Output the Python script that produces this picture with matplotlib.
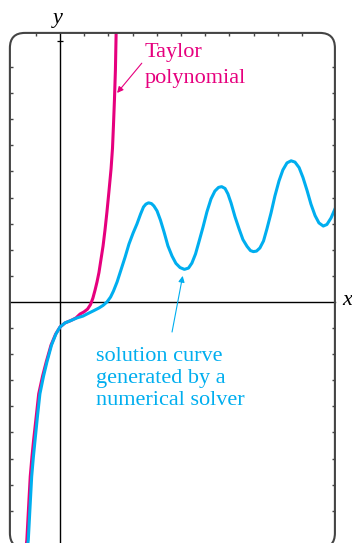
import numpy as np
import matplotlib
matplotlib.use("Agg")
import matplotlib.pyplot as plt
from matplotlib.patches import FancyBboxPatch

# solution curve from the numerical solver
sol_x = [-1.36, -1.31, -1.24, -1.17, -1.10, -1.03, -0.93, -0.83, -0.68, -0.54,
         -0.35, -0.17, 0.00, 0.21, 0.45, 0.70, 0.95, 1.16, 1.40, 1.61,
         1.78, 1.94, 2.09, 2.21, 2.36, 2.52, 2.69, 2.85, 3.02, 3.18,
         3.33, 3.45, 3.55, 3.66, 3.78, 3.88, 4.01, 4.15, 4.30, 4.46,
         4.63, 4.79, 4.96, 5.14, 5.31, 5.45, 5.60, 5.74, 5.91, 6.07,
         6.24, 6.40, 6.55, 6.68, 6.82, 6.94, 7.07, 7.23, 7.40, 7.56,
         7.73, 7.87, 7.99, 8.12, 8.26, 8.41, 8.55, 8.72, 8.88, 9.05,
         9.21, 9.38, 9.55, 9.71, 9.88, 10.04, 10.21, 10.37, 10.54, 10.70,
         10.88, 11.03, 11.20, 11.36, 11.53]
sol_y = [-9.50, -9.12, -7.89, -6.69, -5.94, -5.29, -4.37, -3.52, -2.84, -2.30,
         -1.65, -1.23, -0.96, -0.80, -0.71, -0.61, -0.54, -0.44, -0.33, -0.23,
         -0.13, 0.00, 0.19, 0.42, 0.77, 1.23, 1.72, 2.22, 2.64, 2.99,
         3.37, 3.64, 3.75, 3.80, 3.77, 3.68, 3.49, 3.14, 2.68, 2.15,
         1.76, 1.48, 1.32, 1.25, 1.30, 1.49, 1.84, 2.30, 2.87, 3.45,
         3.95, 4.25, 4.39, 4.42, 4.35, 4.14, 3.79, 3.27, 2.80, 2.39,
         2.13, 1.97, 1.93, 1.95, 2.07, 2.34, 2.80, 3.41, 4.06, 4.64,
         5.06, 5.33, 5.41, 5.36, 5.15, 4.77, 4.27, 3.75, 3.31, 3.03,
         2.91, 2.97, 3.22, 3.56, 3.91]

# Taylor polynomial
tay_x = [-1.42, -1.37, -1.30, -1.23, -1.16, -1.09, -0.98, -0.88, -0.72, -0.57,
         -0.37, -0.18, 0.00, 0.21, 0.45, 0.66, 0.83, 0.99, 1.14, 1.26,
         1.36, 1.45, 1.53, 1.61, 1.69, 1.78, 1.86, 1.94, 2.02, 2.11,
         2.17, 2.21, 2.25, 2.29, 2.31, 2.33]
tay_y = [-9.50, -9.12, -7.89, -6.69, -5.94, -5.29, -4.37, -3.52, -2.84, -2.30,
         -1.65, -1.23, -0.96, -0.80, -0.71, -0.61, -0.46, -0.38, -0.27, -0.10,
         0.15, 0.46, 0.77, 1.13, 1.61, 2.15, 2.76, 3.45, 4.21, 5.10,
         5.90, 6.78, 7.74, 8.89, 9.85, 10.80]

x_ticks = [-1, 1, 2, 3, 4, 5, 6, 7, 8, 9, 10]
y_ticks = [-8, -7, -6, -5, -4, -3, -2, -1, 1, 2, 3, 4, 5, 6, 7, 8, 9]

magenta = "#E6007E"
cyan = "#00AEEF"
frame_col = "#444444"

plt.rcParams['font.family'] = ['Liberation Serif', 'DejaVu Serif']

fig = plt.figure(figsize=(3.52, 5.43), dpi=100)
ax = fig.add_axes([0, 0, 1, 1])
ax.set_xlim(-2.479, 12.066)
ax.set_ylim(-9.234, 11.571)
ax.axis('off')

# rounded frame
left, right, bottom, top = -2.07, 11.36, -9.43, 10.31
frame = FancyBboxPatch((left, bottom), right - left, top - bottom,
                       boxstyle="round,pad=0,rounding_size=0.62",
                       mutation_aspect=24.2 / 26.1,
                       fc='none', ec=frame_col, lw=1.5, zorder=5)
ax.add_patch(frame)

# ticks on the frame edges
tx, ty = 0.124, 0.115
ax.vlines(x_ticks, top - ty, top, color=frame_col, lw=1.0)
ax.hlines(y_ticks, left, left + tx, color=frame_col, lw=1.0)
ax.hlines(y_ticks, right - tx, right, color=frame_col, lw=1.0)
ax.hlines([10], -0.12, 0.12, color='black', lw=0.9)

# axes
ax.plot([left, right], [0, 0], color='black', lw=1.0)
ax.plot([0, 0], [bottom, top], color='black', lw=1.0)

l1, = ax.plot(tay_x, tay_y, color=magenta, lw=2.2, solid_joinstyle='round')
l2, = ax.plot(sol_x, sol_y, color=cyan, lw=2.2, solid_joinstyle='round')
for ln in (l1, l2):
    ln.set_clip_path(frame)

ax.text(-0.08, 10.85, "y", style='italic', fontsize=16, ha='center', va='center')
ax.text(11.86, 0.05, "x", style='italic', fontsize=16, ha='center', va='center')

# va='baseline' puts the last line on the given y
ax.text(3.51, 8.39, "Taylor\npolynomial", color=magenta, fontsize=16,
        ha='left', va='baseline', linespacing=1.5)
ax.annotate("", xy=(2.36, 8.01), xytext=(3.38, 9.15),
            arrowprops=dict(arrowstyle='-|>', color=magenta, lw=0.8,
                            mutation_scale=9, shrinkA=0, shrinkB=0))

ax.text(1.49, -3.95, "solution curve\ngenerated by a\nnumerical solver",
        color=cyan, fontsize=16, ha='left', va='baseline', linespacing=1.2)
ax.annotate("", xy=(5.07, 1.00), xytext=(4.63, -1.15),
            arrowprops=dict(arrowstyle='-|>', color=cyan, lw=0.8,
                            mutation_scale=9, shrinkA=0, shrinkB=0))

fig.savefig("out.png", dpi=100)
